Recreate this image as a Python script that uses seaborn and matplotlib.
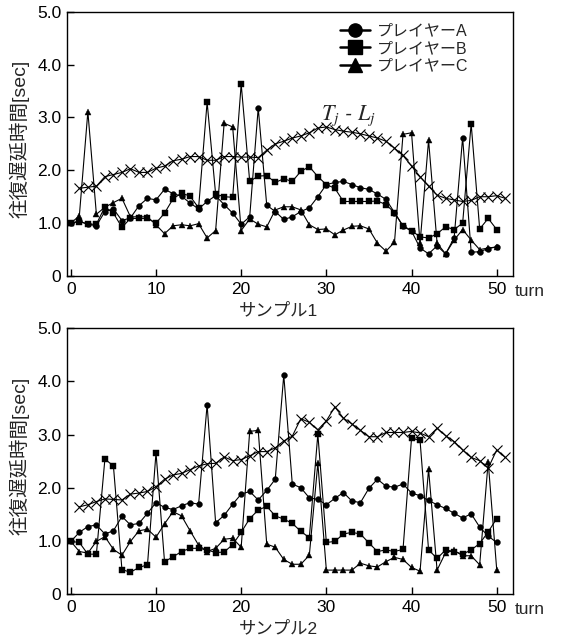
import numpy as np
import pandas as pd
import matplotlib
matplotlib.use('Agg')
import matplotlib.pyplot as plt
from matplotlib.lines import Line2D
import seaborn as sns

# turns
turns = list(range(0, 51))
turns_tl = list(range(1, 52))

# sample 1
a1 = [1.00, 1.04, 0.98, 0.95, 1.22, 1.27, 1.05, 1.10, 1.33, 1.47,
      1.44, 1.64, 1.56, 1.51, 1.38, 1.27, 1.41, 1.52, 1.35, 1.19,
      0.98, 1.12, 3.18, 1.34, 1.22, 1.07, 1.12, 1.22, 1.29, 1.50,
      1.73, 1.77, 1.79, 1.73, 1.67, 1.64, 1.55, 1.45, 1.20, 0.94,
      0.85, 0.53, 0.42, 0.57, 0.42, 0.72, 2.62, 0.45, 0.46, 0.52, 0.55]
b1 = [1.00, 1.03, 0.98, 0.98, 1.31, 1.19, 0.92, 1.09, 1.09, 1.09,
      1.00, 1.19, 1.46, 1.57, 1.51, 1.29, 3.29, 1.55, 1.50, 1.49,
      3.63, 1.79, 1.89, 1.90, 1.77, 1.84, 1.79, 1.98, 2.07, 1.88,
      1.73, 1.66, 1.41, 1.41, 1.41, 1.41, 1.42, 1.35, 1.20, 0.95,
      0.86, 0.74, 0.72, 0.80, 0.93, 0.88, 1.00, 2.88, 0.89, 1.09, 0.88]
c1 = [1.00, 1.14, 3.11, 1.17, 1.30, 1.39, 1.47, 1.12, 1.12, 1.12,
      0.97, 0.80, 0.95, 0.97, 0.95, 0.99, 0.72, 0.86, 2.89, 2.82,
      0.86, 1.08, 0.98, 0.93, 1.25, 1.31, 1.31, 1.25, 0.97, 0.88,
      0.89, 0.78, 0.87, 0.94, 0.95, 0.89, 0.62, 0.47, 0.64, 2.68,
      2.71, 0.62, 2.57, 0.62, 0.42, 0.68, 0.88, 0.68, 0.50, 0.53, 0.55]
tl1 = [1.66, 1.68, 1.70, 1.88, 1.92, 1.96, 2.03, 1.96, 1.96, 2.04,
       2.08, 2.18, 2.21, 2.26, 2.26, 2.19, 2.19, 2.26, 2.26, 2.25,
       2.25, 2.24, 2.38, 2.50, 2.55, 2.61, 2.65, 2.71, 2.80, 2.82,
       2.77, 2.74, 2.72, 2.69, 2.65, 2.61, 2.55, 2.42, 2.28, 2.08,
       1.88, 1.70, 1.53, 1.47, 1.44, 1.41, 1.43, 1.50, 1.50, 1.52, 1.47]

# sample 2
a2 = [0.99, 1.16, 1.27, 1.30, 1.13, 1.19, 1.46, 1.30, 1.33, 1.52,
      1.72, 1.63, 1.59, 1.66, 1.72, 1.69, 3.56, 1.34, 1.48, 1.69,
      1.88, 1.93, 1.77, 1.95, 2.16, 4.12, 2.07, 2.00, 1.81, 1.78,
      1.68, 1.80, 1.91, 1.75, 1.72, 1.99, 2.16, 2.03, 2.01, 2.07,
      1.90, 1.85, 1.76, 1.68, 1.61, 1.52, 1.43, 1.51, 1.26, 1.09, 0.97]
b2 = [0.99, 0.97, 0.75, 0.75, 2.54, 2.41, 0.46, 0.41, 0.50, 0.55,
      2.66, 0.61, 0.70, 0.80, 0.86, 0.86, 0.83, 0.78, 0.79, 0.93,
      1.16, 1.42, 1.58, 1.65, 1.47, 1.41, 1.33, 1.18, 1.06, 3.01,
      0.97, 0.99, 1.13, 1.16, 1.13, 0.96, 0.80, 0.83, 0.80, 0.84,
      2.93, 2.89, 0.83, 0.67, 0.83, 0.80, 0.75, 0.83, 0.95, 1.17, 1.42]
c2 = [0.99, 0.80, 0.77, 0.99, 1.08, 0.84, 0.73, 0.99, 1.19, 1.22,
      1.07, 1.32, 1.55, 1.47, 1.19, 0.92, 0.80, 0.86, 1.03, 1.05,
      0.88, 3.06, 3.08, 0.94, 0.88, 0.65, 0.56, 0.56, 0.73, 2.46,
      0.45, 0.45, 0.45, 0.45, 0.58, 0.53, 0.51, 0.61, 0.69, 0.65,
      0.50, 0.43, 2.35, 0.45, 0.78, 0.82, 0.72, 0.72, 0.55, 2.49, 0.46]
tl2 = [1.64, 1.68, 1.74, 1.79, 1.78, 1.77, 1.88, 1.90, 1.93, 2.02,
       2.16, 2.24, 2.27, 2.34, 2.41, 2.45, 2.46, 2.58, 2.51, 2.53,
       2.60, 2.68, 2.68, 2.75, 2.88, 2.97, 3.30, 3.23, 3.09, 3.26,
       3.52, 3.31, 3.20, 3.08, 2.96, 2.96, 3.04, 3.04, 3.04, 3.06,
       3.03, 2.96, 3.12, 2.98, 2.87, 2.71, 2.57, 2.51, 2.37, 2.71, 2.57]

players = ['プレイヤーA', 'プレイヤーB', 'プレイヤーC']
markers = ['o', 's', '^']
msizes = [4.2, 3.8, 4.6]
ytick_labels = ['0', '1.0', '2.0', '3.0', '4.0', '5.0']
xticks = [0, 10, 20, 30, 40, 50]

sns.set_style('ticks')
plt.rcParams['font.family'] = ['Liberation Sans', 'Noto Sans CJK JP']
plt.rcParams['mathtext.fontset'] = 'stix'

fig = plt.figure(figsize=(5.63, 6.44), dpi=100)
ax1 = fig.add_axes([0.119, 0.5714, 0.792, 0.4104])
ax2 = fig.add_axes([0.119, 0.0776, 0.792, 0.4126])


def draw(ax, series, tl, sample):
    for vals, name, m, ms in zip(series, players, markers, msizes):
        sns.lineplot(x=turns, y=vals, ax=ax, color='k', marker=m,
                     markersize=ms, markeredgecolor='k', markeredgewidth=0.3,
                     linewidth=0.8)
    sns.lineplot(x=turns_tl, y=tl, ax=ax, color='k', marker='x',
                 markersize=6.5, markeredgecolor='k', markeredgewidth=0.8,
                 linewidth=0.8)
    ax.set_xlim(-0.45, 51.9)
    ax.set_ylim(0, 5)
    ax.set_xticks(xticks)
    ax.set_xticklabels([str(t) for t in xticks])
    ax.set_yticks(range(6))
    ax.set_yticklabels(ytick_labels)
    ax.tick_params(direction='in', length=5, width=1, labelsize=12.5,
                   pad=4, top=False, right=False, colors='k')
    for s in ax.spines.values():
        s.set_linewidth(1.0)
        s.set_color('k')
    ax.set_ylabel('往復遅延時間[sec]', fontsize=14)
    ax.yaxis.set_label_coords(-0.085, 0.52)
    ax.set_xlabel(sample, fontsize=12.5)
    ax.xaxis.set_label_coords(0.475, -0.1)
    ax.xaxis.label.set_va('top')
    ax.text(1.005, -0.057, 'turn', transform=ax.transAxes, ha='left',
            va='center', fontsize=12.5)


draw(ax1, [a1, b1, c1], tl1, 'サンプル1')
draw(ax2, [a2, b2, c2], tl2, 'サンプル2')

ax1.text(29.4, 2.95, r'$T_j$ - $L_j$', fontsize=16, family='STIXGeneral',
         style='italic', ha='left', va='baseline')

handles = [Line2D([], [], color='k', marker=m, markersize=9.5, linewidth=1.8)
           for m in markers]
ax1.legend(handles, players, loc='upper left', bbox_to_anchor=(0.612, 0.955),
           frameon=False, fontsize=11.5, handlelength=1.9, handletextpad=0.4,
           labelspacing=0.15, borderpad=0, borderaxespad=0)

fig.savefig('out.png', dpi=100)
